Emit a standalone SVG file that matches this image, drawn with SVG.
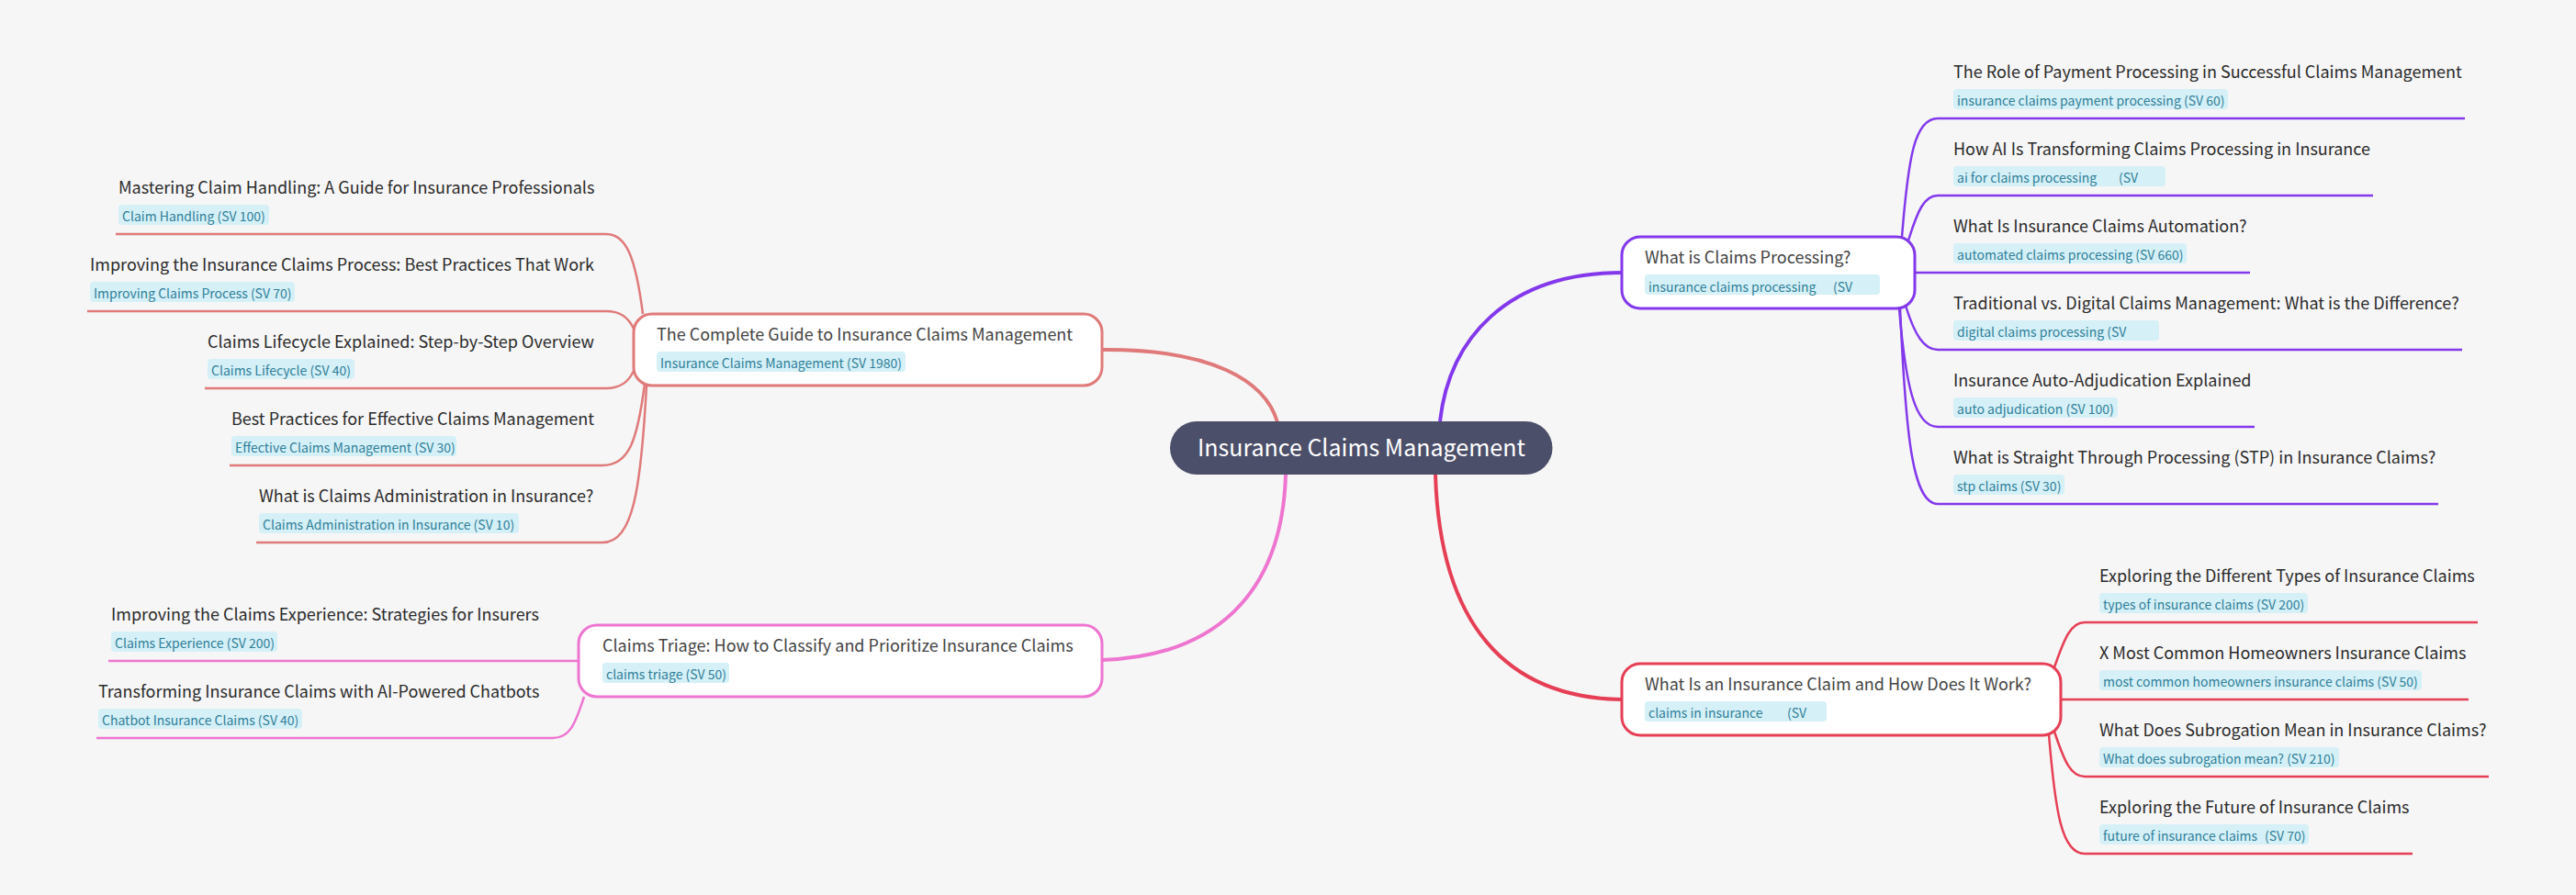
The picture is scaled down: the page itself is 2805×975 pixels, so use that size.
<svg xmlns="http://www.w3.org/2000/svg" width="2805" height="975" viewBox="0 0 2805 975">
<style>
text{font-family:"Noto Sans CJK SC","Noto Sans",sans-serif}
.t{font-size:18px;fill:#2b2b2b}
.n{font-size:18px;fill:#444}
.k{font-size:14px;fill:#2f7f99;transform:translateY(1px)}
.b{fill:#d5f0f7}
.c{fill:none;stroke-width:2.5}
.w{fill:none;stroke-width:4}
.s{stroke:#e07a7a}.p{stroke:#ee75d0}.v{stroke:#8338ec}.r{stroke:#e63f55}
.box{fill:#fff;stroke-width:3}
</style>
<rect width="2805" height="975" fill="#f6f6f6"/>
<g id="connectors">
<path class="w s" d="M1200 381C1320 380 1378 415 1391 460"/>
<path class="w p" d="M1200 719C1320 715 1396 650 1400 517"/>
<path class="w r" d="M1563 517C1568 680 1640 760 1766 762"/>
<path class="w v" d="M1568 459C1578 370 1640 297 1767 297"/>
<path class="c s" d="M126 255H660C682 255 692 280 700 342"/>
<path class="c s" d="M95 339H660C675 339 684 345 690 358"/>
<path class="c s" d="M223 423H660C675 423 684 417 690 404"/>
<path class="c s" d="M250 507H656C685 507 694 480 702 418"/>
<path class="c s" d="M279 591H656C690 591 698 530 704 420"/>
<path class="c p" d="M118 720H631"/>
<path class="c p" d="M105 804H602C620 804 626 790 636 759"/>
<path class="c v" d="M2684 129H2110C2085 129 2078 170 2071 258"/>
<path class="c v" d="M2584 213H2110C2095 213 2088 230 2078 262"/>
<path class="c v" d="M2450 297H2085"/>
<path class="c v" d="M2681 381H2110C2095 381 2085 365 2075 333"/>
<path class="c v" d="M2455 465H2110C2085 465 2075 420 2068 336"/>
<path class="c v" d="M2655 549H2110C2082 549 2075 470 2069 336"/>
<path class="c r" d="M2698 678H2270C2255 678 2248 695 2237 727"/>
<path class="c r" d="M2688 762H2244"/>
<path class="c r" d="M2710 846H2270C2255 846 2248 830 2237 797"/>
<path class="c r" d="M2627 930H2270C2245 930 2238 885 2231 800"/>
</g>
<g id="root"><rect x="1274" y="459" width="416.500" height="58" rx="29" fill="#4c4f69"/><text x="1304" y="497" font-size="25" fill="#fff">Insurance Claims Management</text></g>
<g id="n-guide"><rect class="box s" x="690" y="342" width="510" height="78" rx="20"/><text class="n" x="715" y="371">The Complete Guide to Insurance Claims Management</text><rect class="b" x="715" y="383" width="271" height="22" rx="4"/><text class="k" x="719" y="400">Insurance Claims Management (SV 1980)</text></g>
<g id="n-triage"><rect class="box p" x="630" y="681" width="570" height="78" rx="20"/><text class="n" x="656" y="710">Claims Triage: How to Classify and Prioritize Insurance Claims</text><rect class="b" x="656" y="722" width="138" height="22" rx="4"/><text class="k" x="660" y="739">claims triage (SV 50)</text></g>
<g id="n-what"><rect class="box v" x="1766" y="258" width="319" height="78" rx="20"/><text class="n" x="1791" y="287">What is Claims Processing?</text><rect class="b" x="1791" y="299" width="256" height="22" rx="4"/><text class="k" x="1795" y="317">insurance claims processing<tspan x="1996">(SV</tspan></text></g>
<g id="n-claim"><rect class="box r" x="1766" y="723" width="478" height="78" rx="20"/><text class="n" x="1791" y="752">What Is an Insurance Claim and How Does It Work?</text><rect class="b" x="1791" y="764" width="198" height="22" rx="4"/><text class="k" x="1795" y="781">claims in insurance<tspan x="1946">(SV</tspan></text></g>
<g id="l1"><text class="t" x="129" y="211">Mastering Claim Handling: A Guide for Insurance Professionals</text><rect class="b" x="129" y="223" width="164" height="22" rx="4"/><text class="k" x="133" y="240">Claim Handling (SV 100)</text></g>
<g id="l2"><text class="t" x="98" y="295">Improving the Insurance Claims Process: Best Practices That Work</text><rect class="b" x="98" y="307" width="223" height="22" rx="4"/><text class="k" x="102" y="324">Improving Claims Process (SV 70)</text></g>
<g id="l3"><text class="t" x="226" y="379">Claims Lifecycle Explained: Step-by-Step Overview</text><rect class="b" x="226" y="391" width="160" height="22" rx="4"/><text class="k" x="230" y="408">Claims Lifecycle (SV 40)</text></g>
<g id="l4"><text class="t" x="252" y="463">Best Practices for Effective Claims Management</text><rect class="b" x="252" y="475" width="245" height="22" rx="4"/><text class="k" x="256" y="492">Effective Claims Management (SV 30)</text></g>
<g id="l5"><text class="t" x="282" y="547">What is Claims Administration in Insurance?</text><rect class="b" x="282" y="559" width="283" height="22" rx="4"/><text class="k" x="286" y="576">Claims Administration in Insurance (SV 10)</text></g>
<g id="l6"><text class="t" x="121" y="676">Improving the Claims Experience: Strategies for Insurers</text><rect class="b" x="121" y="688" width="181" height="22" rx="4"/><text class="k" x="125" y="705">Claims Experience (SV 200)</text></g>
<g id="l7"><text class="t" x="107" y="760">Transforming Insurance Claims with AI-Powered Chatbots</text><rect class="b" x="107" y="772" width="222" height="22" rx="4"/><text class="k" x="111" y="789">Chatbot Insurance Claims (SV 40)</text></g>
<g id="r1"><text class="t" x="2127" y="85">The Role of Payment Processing in Successful Claims Management</text><rect class="b" x="2127" y="97" width="299" height="22" rx="4"/><text class="k" x="2131" y="114">insurance claims payment processing (SV 60)</text></g>
<g id="r2"><text class="t" x="2127" y="169">How AI Is Transforming Claims Processing in Insurance</text><rect class="b" x="2127" y="181" width="231" height="22" rx="4"/><text class="k" x="2131" y="198">ai for claims processing<tspan x="2307">(SV</tspan></text></g>
<g id="r3"><text class="t" x="2127" y="253">What Is Insurance Claims Automation?</text><rect class="b" x="2127" y="265" width="254" height="22" rx="4"/><text class="k" x="2131" y="282">automated claims processing (SV 660)</text></g>
<g id="r4"><text class="t" x="2127" y="337">Traditional vs. Digital Claims Management: What is the Difference?</text><rect class="b" x="2127" y="349" width="224" height="22" rx="4"/><text class="k" x="2131" y="366">digital claims processing (SV</text></g>
<g id="r5"><text class="t" x="2127" y="421">Insurance Auto-Adjudication Explained</text><rect class="b" x="2127" y="433" width="179" height="22" rx="4"/><text class="k" x="2131" y="450">auto adjudication (SV 100)</text></g>
<g id="r6"><text class="t" x="2127" y="505">What is Straight Through Processing (STP) in Insurance Claims?</text><rect class="b" x="2127" y="517" width="121" height="22" rx="4"/><text class="k" x="2131" y="534">stp claims (SV 30)</text></g>
<g id="r7"><text class="t" x="2286" y="634">Exploring the Different Types of Insurance Claims</text><rect class="b" x="2286" y="646" width="227" height="22" rx="4"/><text class="k" x="2290" y="663">types of insurance claims (SV 200)</text></g>
<g id="r8"><text class="t" x="2286" y="718">X Most Common Homeowners Insurance Claims</text><rect class="b" x="2286" y="730" width="351" height="22" rx="4"/><text class="k" x="2290" y="747">most common homeowners insurance claims (SV 50)</text></g>
<g id="r9"><text class="t" x="2286" y="802">What Does Subrogation Mean in Insurance Claims?</text><rect class="b" x="2286" y="814" width="261" height="22" rx="4"/><text class="k" x="2290" y="831">What does subrogation mean?  (SV 210)</text></g>
<g id="r10"><text class="t" x="2286" y="886">Exploring the Future of Insurance Claims</text><rect class="b" x="2286" y="898" width="228" height="22" rx="4"/><text class="k" x="2290" y="915">future of insurance claims<tspan x="2466">(SV 70)</tspan></text></g>
</svg>
